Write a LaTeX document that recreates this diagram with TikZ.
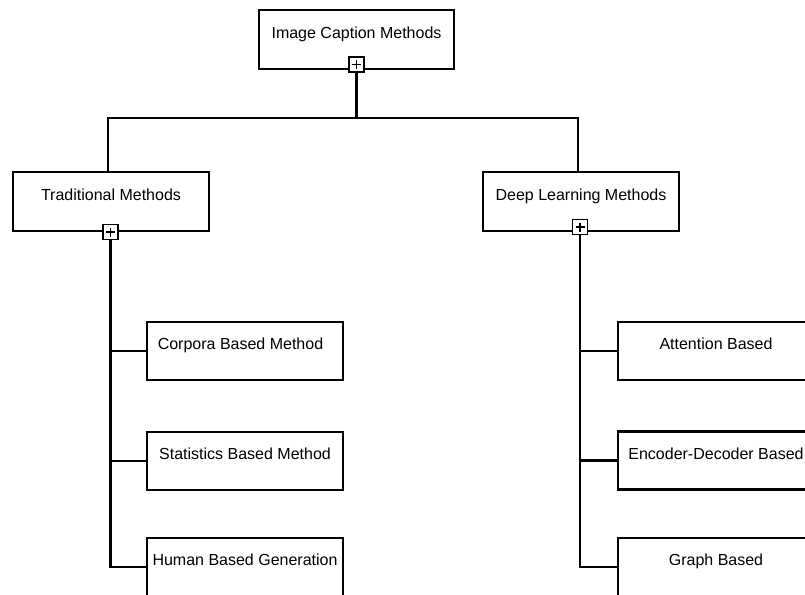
\documentclass[tikz,border=0pt]{standalone}
\usepackage{fontspec}
\setmainfont{Liberation Sans}
\begin{document}
\begin{tikzpicture}[x=1pt,y=-1pt,
  box/.style={draw=black, line width=2.2pt, fill=white, inner sep=0pt,
    minimum width=196pt, minimum height=58pt,
    text height=12pt, text depth=15pt,
    font=\fontsize{16}{19}\selectfont},
  plusbox/.style={draw=black, line width=1.2pt, fill=white, inner sep=0pt,
    minimum width=15pt, minimum height=15pt,
    path picture={\draw[line width=1.1pt]
      ([yshift=-3pt]path picture bounding box.north) -- ([yshift=3pt]path picture bounding box.south)
      ([xshift=3pt]path picture bounding box.west) -- ([xshift=-3pt]path picture bounding box.east);}},
  link/.style={draw=black, line width=2.2pt}
]
\useasboundingbox (0,0) rectangle (805,594);
\clip (0,0) rectangle (805,594);

% junction points of the top-level bus
\coordinate (busM) at (356.5,118);
\coordinate (tradtop) at (108,172);
\coordinate (deeptop) at (578,172);

% root
\node[box, minimum width=195pt, minimum height=59pt] (root) at (356.5,39.5) {Image Caption Methods};

% second level
\node[box, minimum height=59pt] (trad) at (111,201.5) {Traditional Methods};
\node[box, minimum height=59pt] (deep) at (581,201.5) {Deep Learning Methods};

% leaves
\node[box] (corp)  at (245,351)   {Corpora Based Method\hspace*{9pt}};
\node[box] (stat)  at (245,461)   {Statistics Based Method};
\node[box] (human) at (245,567)   {Human Based Generation};
\node[box] (att)   at (716,351)   {Attention Based};
\node[box] (enc)   at (716,460.5) {Encoder-Decoder Based};
\node[box] (graph) at (716,567)   {Graph Based};

% collapse markers
\node[plusbox] (rootplus) at (356.5,64.5) {};
\node[plusbox] (tradplus) at (110.5,232) {};
\node[plusbox] (deepplus) at (580,227) {};

% root to second level
\draw[link] (rootplus.south) -- (busM);
\draw[link] (tradtop) |- (busM) -| (deeptop);

% traditional branch
\draw[link] (tradplus.south) -- (tradplus.south |- human.west) -- (human.west);
\draw[link] (tradplus.south |- corp.west) -- (corp.west);
\draw[link] (tradplus.south |- stat.west) -- (stat.west);

% deep learning branch
\draw[link] (deepplus.south) -- (deepplus.south |- graph.west) -- (graph.west);
\draw[link] (deepplus.south |- att.west) -- (att.west);
\draw[link] (deepplus.south |- enc.west) -- (enc.west);
\end{tikzpicture}
\end{document}
